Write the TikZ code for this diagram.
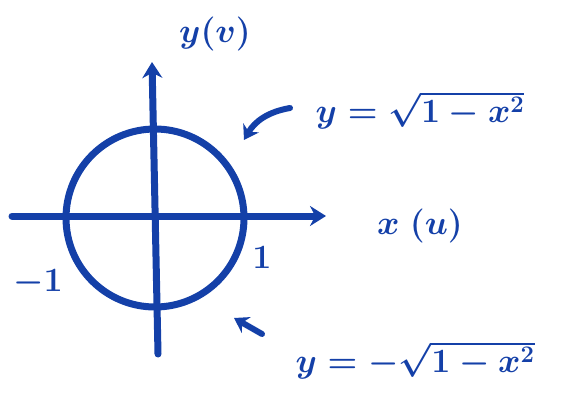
\RequirePackage{fix-cm}
\documentclass[tikz,border=0pt]{standalone}
\usepackage{amsmath}
\usetikzlibrary{arrows.meta, positioning}
\definecolor{penBlue}{HTML}{1440A8}
\tikzset{
  axisline/.style = {-{Stealth[length=16pt,width=20pt]}, line width=7pt, penBlue, line cap=round},
  pointer/.style  = {-{Stealth[length=14pt,width=18pt]}, line width=6pt, penBlue, line cap=round},
  lbl/.style      = {text=penBlue, font=\fontsize{34}{40}\selectfont\boldmath},
}
\begin{document}
\begin{tikzpicture}[x=1pt,y=-1pt]
  \useasboundingbox (0,0) rectangle (561,404);
  % unit circle
  \node[circle, draw=penBlue, line width=7pt, minimum size=178pt, inner sep=0pt] (circ) at (155,218) {};
  % axes
  \coordinate (xl) at (12,216);
  \coordinate (xr) at (326,216);
  \coordinate (yb) at (158,354);
  \coordinate (yt) at (152,62);
  \draw[axisline] (xl) -- (xr);
  \draw[axisline] (yb) -- (yt);
  \node[lbl] (ylab) at (215,34) {$y(v)$};
  \node[lbl] (xlab) at (420,226) {$x\ (u)$};
  \node[lbl] (mone) at (38,283) {$-1$};
  \node[lbl] (one) at (262,258) {$1$};
  % upper and lower half
  \node[lbl] (upper) at (420,110) {$y=\sqrt{1-x^2}$};
  \node[lbl] (lower) at (415,360) {$y=-\sqrt{1-x^2}$};
  \coordinate (ua) at (290,108);
  \coordinate (ub) at (244,140);
  \coordinate (la) at (262,334);
  \coordinate (lb) at (234,318);
  \draw[pointer] (ua) to[bend right=25] (ub);
  \draw[pointer] (la) -- (lb);
\end{tikzpicture}
\end{document}
